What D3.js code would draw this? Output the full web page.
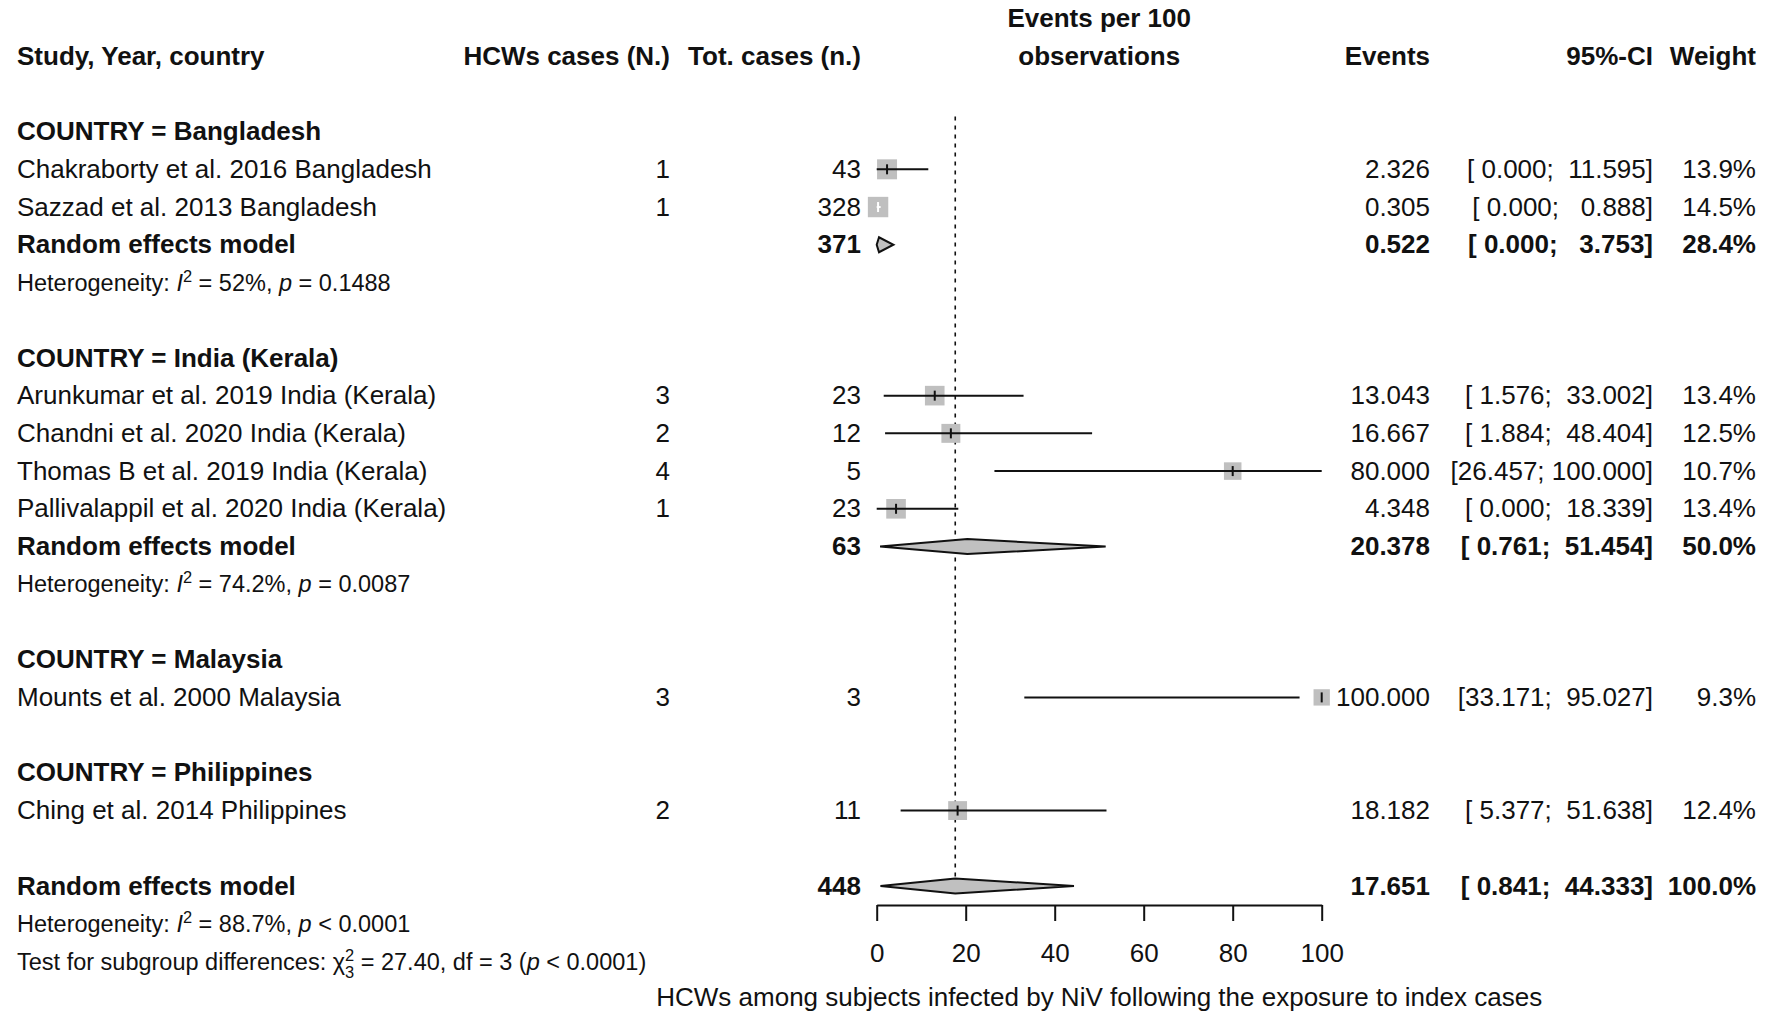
<!DOCTYPE html>
<html>
<head>
<meta charset="utf-8">
<script src="https://cdn.jsdelivr.net/npm/d3@7"></script>
<style>
body { margin: 0; background: #fff; }
svg text { font-family: "Liberation Sans", Arial, sans-serif; fill: #111; white-space: pre; }
</style>
</head>
<body>
<svg id="forest" width="1774" height="1013"></svg>
<script>
// data
const groups = ["Bangladesh", "India (Kerala)", "Malaysia", "Philippines"];
const studies = [
    "Chakraborty et al. 2016 Bangladesh",
    "Sazzad et al. 2013 Bangladesh",
    "Arunkumar et al. 2019 India (Kerala)",
    "Chandni et al. 2020 India (Kerala)",
    "Thomas B et al. 2019 India (Kerala)",
    "Pallivalappil et al. 2020 India (Kerala)",
    "Mounts et al. 2000 Malaysia",
    "Ching et al. 2014 Philippines"
];
const studyGroup = ["Bangladesh", "Bangladesh", "India (Kerala)", "India (Kerala)",
    "India (Kerala)", "India (Kerala)", "Malaysia", "Philippines"];
const hcwCases = [1, 1, 3, 2, 4, 1, 3, 2];
const totCases = [43, 328, 23, 12, 5, 23, 3, 11];
const events = [2.326, 0.305, 13.043, 16.667, 80.000, 4.348, 100.000, 18.182];
const ciLower = [0.000, 0.000, 1.576, 1.884, 26.457, 0.000, 33.171, 5.377];
const ciUpper = [11.595, 0.888, 33.002, 48.404, 100.000, 18.339, 95.027, 51.638];
const weights = [13.9, 14.5, 13.4, 12.5, 10.7, 13.4, 9.3, 12.4];

// subgroup random effects models
const modelGroups = ["Bangladesh", "India (Kerala)"];
const modelTotal = [371, 63];
const modelEvents = [0.522, 20.378];
const modelLower = [0.000, 0.761];
const modelUpper = [3.753, 51.454];
const modelWeight = [28.4, 50.0];
const modelI2 = ["52%", "74.2%"];
const modelP = ["= 0.1488", "= 0.0087"];

// overall model
const overallTotal = 448;
const overallEvents = 17.651;
const overallLower = 0.841;
const overallUpper = 44.333;
const overallWeight = 100.0;
const overallI2 = "88.7%";
const overallP = "< 0.0001";
const subgroupChi = "27.40";
const subgroupDf = 3;
const subgroupP = "< 0.0001";

const axisTicks = [0, 20, 40, 60, 80, 100];

const fs = 26, fsHet = 23.5;
const svg = d3.select('#forest');

const x = d3.scaleLinear().domain([0, 100]).range([876.7, 1321.7]);
const y = d3.scaleLinear().domain([0, 1]).range([131.6, 169.32]);
const boxSize = d3.scaleSqrt().domain([0, 14.5]).range([0, 20.4]);

const col = { study: 17, hcw: 670, tot: 861, events: 1430, ci: 1653, weight: 1756 };

const pad = (s, n) => s.padStart(n, ' ');
const fmtCI = (lo, hi) => '[' + pad(lo.toFixed(3), 6) + '; ' + pad(hi.toFixed(3), 7) + ']';

function txt(xp, yp, t, opts = {}) {
    return svg.append('text')
        .attr('x', xp)
        .attr('y', yp)
        .attr('dy', '0.33em')
        .attr('text-anchor', opts.anchor || 'start')
        .attr('font-size', opts.size || fs)
        .attr('font-weight', opts.bold ? 'bold' : 'normal')
        .text(t);
}

// headers
txt(col.study, y(-2), 'Study, Year, country', { bold: true });
txt(col.hcw, y(-2), 'HCWs cases (N.)', { bold: true, anchor: 'end' });
txt(col.tot, y(-2), 'Tot. cases (n.)', { bold: true, anchor: 'end' });
txt(x(50), y(-3), 'Events per 100', { bold: true, anchor: 'middle' });
txt(x(50), y(-2), 'observations', { bold: true, anchor: 'middle' });
txt(col.events, y(-2), 'Events', { bold: true, anchor: 'end' });
txt(col.ci, y(-2), '95%-CI', { bold: true, anchor: 'end' });
txt(col.weight, y(-2), 'Weight', { bold: true, anchor: 'end' });

// row layout
const rows = [];
let r = 0;
groups.forEach(g => {
    rows.push({ type: 'group', r: r++, g });
    studies.forEach((s, i) => { if (studyGroup[i] === g) rows.push({ type: 'study', r: r++, i }); });
    const mi = modelGroups.indexOf(g);
    if (mi >= 0) {
        rows.push({ type: 'model', r: r++, mi });
        rows.push({ type: 'het', r: r++, mi });
    }
    r++;
});
const overallRow = r;

function hetLine(yp, i2, pTxt) {
    const t = svg.append('text')
        .attr('x', col.study).attr('y', yp).attr('dy', '0.35em')
        .attr('font-size', fsHet);
    t.append('tspan').text('Heterogeneity: ');
    t.append('tspan').attr('font-style', 'italic').text('I');
    t.append('tspan').attr('font-size', fsHet * 0.7).attr('dy', -9).text('2');
    t.append('tspan').attr('dy', 9).text(' = ' + i2 + ', ');
    t.append('tspan').attr('font-style', 'italic').text('p');
    t.append('tspan').text(' ' + pTxt);
}

function diamond(yp, est, lo, hi) {
    const h = 7.5;
    svg.append('path')
        .attr('d', `M${x(lo)},${yp}L${x(est)},${yp - h}L${x(hi)},${yp}L${x(est)},${yp + h}Z`)
        .attr('fill', '#c0c0c0')
        .attr('stroke', '#111')
        .attr('stroke-width', 2)
        .attr('stroke-linejoin', 'miter');
}

// reference line at the overall estimate
svg.append('line')
    .attr('x1', x(overallEvents)).attr('x2', x(overallEvents))
    .attr('y1', y(-0.4)).attr('y2', y(overallRow) - 7.5)
    .attr('stroke', '#111')
    .attr('stroke-width', 1.6)
    .attr('stroke-dasharray', '4,5');

rows.forEach(d => {
    const yp = y(d.r);
    if (d.type === 'group') {
        txt(col.study, yp, 'COUNTRY = ' + d.g, { bold: true });
    } else if (d.type === 'study') {
        const i = d.i;
        txt(col.study, yp, studies[i]);
        txt(col.hcw, yp, String(hcwCases[i]), { anchor: 'end' });
        txt(col.tot, yp, String(totCases[i]), { anchor: 'end' });
        txt(col.events, yp, events[i].toFixed(3), { anchor: 'end' });
        txt(col.ci, yp, fmtCI(ciLower[i], ciUpper[i]), { anchor: 'end' });
        txt(col.weight, yp, weights[i].toFixed(1) + '%', { anchor: 'end' });

        const s = boxSize(weights[i]);
        const cx = x(events[i]);
        svg.append('rect')
            .attr('x', cx - s / 2).attr('y', yp - s / 2)
            .attr('width', s).attr('height', s)
            .attr('fill', '#bfbfbf');
        const inside = x(ciLower[i]) >= cx - s / 2 && x(ciUpper[i]) <= cx + s / 2;
        const c = inside ? '#fff' : '#111';
        svg.append('line')
            .attr('x1', x(ciLower[i])).attr('x2', x(ciUpper[i]))
            .attr('y1', yp).attr('y2', yp)
            .attr('stroke', c).attr('stroke-width', 2);
        svg.append('line')
            .attr('x1', cx).attr('x2', cx)
            .attr('y1', yp - 5).attr('y2', yp + 5)
            .attr('stroke', c).attr('stroke-width', 2);
    } else if (d.type === 'model') {
        const mi = d.mi;
        txt(col.study, yp, 'Random effects model', { bold: true });
        txt(col.tot, yp, String(modelTotal[mi]), { bold: true, anchor: 'end' });
        txt(col.events, yp, modelEvents[mi].toFixed(3), { bold: true, anchor: 'end' });
        txt(col.ci, yp, fmtCI(modelLower[mi], modelUpper[mi]), { bold: true, anchor: 'end' });
        txt(col.weight, yp, modelWeight[mi].toFixed(1) + '%', { bold: true, anchor: 'end' });
        diamond(yp, modelEvents[mi], modelLower[mi], modelUpper[mi]);
    } else if (d.type === 'het') {
        hetLine(yp, modelI2[d.mi], modelP[d.mi]);
    }
});

// overall model
const yo = y(overallRow);
txt(col.study, yo, 'Random effects model', { bold: true });
txt(col.tot, yo, String(overallTotal), { bold: true, anchor: 'end' });
txt(col.events, yo, overallEvents.toFixed(3), { bold: true, anchor: 'end' });
txt(col.ci, yo, fmtCI(overallLower, overallUpper), { bold: true, anchor: 'end' });
txt(col.weight, yo, overallWeight.toFixed(1) + '%', { bold: true, anchor: 'end' });
diamond(yo, overallEvents, overallLower, overallUpper);
hetLine(y(overallRow + 1), overallI2, overallP);

// test for subgroup differences
const tt = svg.append('text')
    .attr('x', col.study).attr('y', y(overallRow + 2)).attr('dy', '0.35em')
    .attr('font-size', fsHet);
tt.append('tspan').text('Test for subgroup differences: ');
tt.append('tspan').text('\u03c7');
tt.append('tspan').attr('font-size', fsHet * 0.7).attr('dy', -9).text('2');
tt.append('tspan').attr('font-size', fsHet * 0.7).attr('dx', -fsHet * 0.7 * 0.556).attr('dy', 17).text(String(subgroupDf));
tt.append('tspan').attr('dy', -8).text(' = ' + subgroupChi + ', df = ' + subgroupDf + ' (');
tt.append('tspan').attr('font-style', 'italic').text('p');
tt.append('tspan').text(' ' + subgroupP + ')');

// x axis
const axisG = svg.append('g')
    .attr('transform', 'translate(0, 905)')
    .call(d3.axisBottom(x).tickValues(axisTicks).tickSize(16).tickSizeOuter(0).tickPadding(23));
axisG.attr('font-size', fs).attr('font-family', null);
axisG.selectAll('text').attr('font-size', fs);
axisG.select('.domain').attr('stroke', '#111').attr('stroke-width', 2);
axisG.selectAll('.tick line').attr('stroke', '#111').attr('stroke-width', 2);

txt(x(50), 997, 'HCWs among subjects infected by NiV following the exposure to index cases', { anchor: 'middle' });
</script>
</body>
</html>
